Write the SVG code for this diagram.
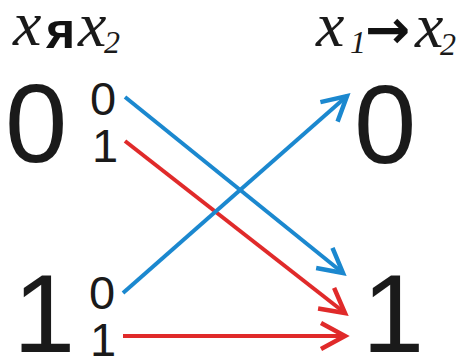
<svg xmlns="http://www.w3.org/2000/svg" width="462" height="356" viewBox="0 0 462 356">
<style>
.big{font-family:'Liberation Sans',Arial,sans-serif;font-size:112px;fill:#1a1a1a}
.sm{font-family:'Liberation Sans',Arial,sans-serif;font-size:47px;fill:#1a1a1a}
.it{font-family:'Liberation Serif','Times New Roman',serif;font-style:italic;fill:#1a1a1a}
.bl{stroke:#1b88cf;stroke-width:4;fill:none}
.rd{stroke:#e02a2a;stroke-width:4;fill:none}
</style>
<defs>
<marker id="ab" markerUnits="userSpaceOnUse" markerWidth="40" markerHeight="40" viewBox="-30 -20 40 40" refX="0" refY="0" orient="auto">
<path d="M-24,-13 L0,0 L-24,13" fill="none" stroke="#1b88cf" stroke-width="4.5"/>
</marker>
<marker id="ar" markerUnits="userSpaceOnUse" markerWidth="40" markerHeight="40" viewBox="-30 -20 40 40" refX="0" refY="0" orient="auto">
<path d="M-24,-13 L0,0 L-24,13" fill="none" stroke="#e02a2a" stroke-width="4.5"/>
</marker>
</defs>
<g id="header-left">
<text class="it" font-size="64" x="13" y="45">x</text>
<text font-family="Liberation Sans, Arial, sans-serif" font-weight="bold" font-size="50" x="46" y="48" fill="#111">я</text>
<text class="it" font-size="64" x="78" y="46">x</text>
<text class="it" font-size="32" x="104" y="53">2</text>
</g>
<g id="header-right">
<text class="it" font-size="64" x="316" y="46">x</text>
<text class="it" font-size="32" x="350" y="53">1</text>
<text font-family="DejaVu Sans, sans-serif" font-weight="bold" font-size="54" x="365" y="48" fill="#111">→</text>
<text class="it" font-size="64" x="415" y="47">x</text>
<text class="it" font-size="32" x="440" y="55">2</text>
</g>
<g id="node-left-0">
<text class="big" x="5" y="162">0</text>
<text class="sm" x="90" y="115">0</text>
<text class="sm" x="92" y="162">1</text>
</g>
<g id="node-left-1">
<text class="big" x="13" y="352">1</text>
<text class="sm" x="89" y="309">0</text>
<text class="sm" x="90" y="356">1</text>
</g>
<g id="node-right-0">
<text class="big" x="354" y="163">0</text>
</g>
<g id="node-right-1">
<text class="big" x="362" y="352">1</text>
</g>
<g id="connectors">
<line class="bl" x1="125" y1="97" x2="343" y2="273" marker-end="url(#ab)"/>
<line class="rd" x1="125" y1="141" x2="345" y2="313" marker-end="url(#ar)"/>
<line class="bl" x1="123" y1="293" x2="347" y2="96" marker-end="url(#ab)"/>
<line class="rd" x1="123" y1="336" x2="345" y2="336" marker-end="url(#ar)"/>
</g>
</svg>
